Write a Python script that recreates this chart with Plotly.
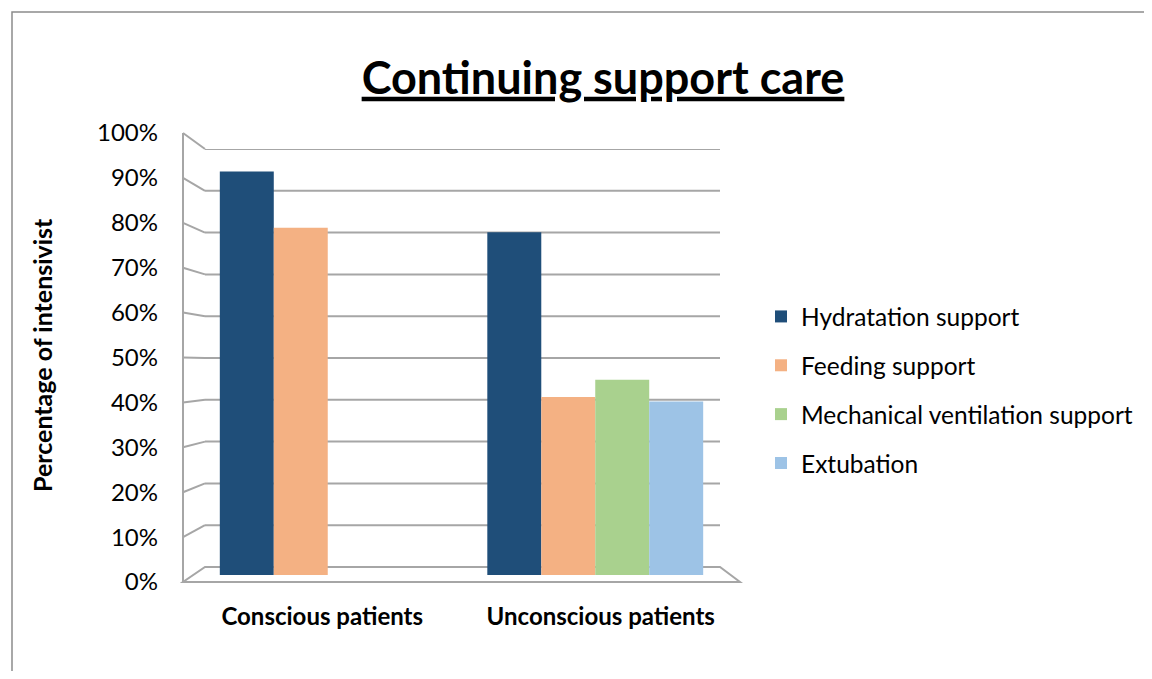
import plotly.graph_objects as go

categories = ["Conscious patients", "Unconscious patients"]
series_names = ["Hydratation support", "Feeding support",
                "Mechanical ventilation support", "Extubation"]
hydratation = [0.93, 0.79]
feeding = [0.80, 0.41]
mechanical = [None, 0.45]
extubation = [None, 0.40]
series_values = [hydratation, feeding, mechanical, extubation]
colors = ["#1F4E79", "#F4B183", "#A9D18E", "#9DC3E6"]
tick_vals = [i / 10 for i in range(11)]

FONT = "Lato"
OFF = 8                      # default page body margin
W, H = 1152 - 2 * OFF, 679 - 2 * OFF
# outer (front) plot box in screen px
L, R = 183 - OFF, 740 - OFF
T, B = 133 - OFF, 582 - OFF
GRID = "#a6a6a6"

def sx(x):
    return (x - OFF - L) / (R - L)

def sy(y):
    return (B - (y - OFF)) / (B - T)

bar_x_dom = [sx(194), sx(729)]
bar_y_dom = [sy(575), sy(141)]
back_y_dom = [sy(567), sy(149)]

fig = go.Figure()
for i, (name, vals, col) in enumerate(zip(series_names, series_values, colors)):
    fig.add_trace(go.Bar(
        x=categories, y=vals, name=name,
        marker=dict(color=col, line=dict(width=0)),
        legendgroup=f"g{i}",
    ))
# empty helper trace so the front-projection label axes are drawn
fig.add_trace(go.Scatter(x=[None], y=[None], xaxis="x2", yaxis="y2",
                         mode="markers", showlegend=False, hoverinfo="skip"))

shapes = []
# outer frame
shapes.append(dict(type="rect", xref="paper", yref="paper",
                   x0=sx(12), y0=sy(720), x1=sx(1200), y1=sy(12),
                   line=dict(color="#8c8c8c", width=1.5), fillcolor="rgba(0,0,0,0)", layer="below"))
# left wall front edge
shapes.append(dict(type="line", xref="paper", yref="paper",
                   x0=0, y0=0, x1=0, y1=1,
                   line=dict(color=GRID, width=2), layer="below"))
# floor
shapes.append(dict(type="path", xref="paper", yref="paper",
                   path=f"M 0 0 L 1 0 L {sx(720)} {back_y_dom[0]} L {sx(205)} {back_y_dom[0]} Z",
                   line=dict(color=GRID, width=2), fillcolor="rgba(0,0,0,0)", layer="below"))
# gridlines on back wall with 3-D stubs on the left wall
for v in tick_vals[1:]:
    back = back_y_dom[0] + v * (back_y_dom[1] - back_y_dom[0])
    shapes.append(dict(type="line", xref="paper", yref="paper",
                       x0=0, y0=v, x1=sx(205), y1=back,
                       line=dict(color=GRID, width=2), layer="below"))
    shapes.append(dict(type="line", xref="paper", yref="y3",
                       x0=sx(205), y0=v, x1=sx(720), y1=v,
                       line=dict(color=GRID, width=2), layer="below"))

fig.update_layout(
    width=W, height=H,
    paper_bgcolor="white", plot_bgcolor="rgba(0,0,0,0)",
    margin=dict(l=L, r=W - R, t=T, b=H - B, pad=0, autoexpand=False),
    barmode="group", bargap=0.193, bargroupgap=0,
    font=dict(family=FONT, color="#000000"),
    title=dict(text="<b><u>Continuing support care</u></b>",
               font=dict(family=FONT, size=45, color="#000000"),
               x=(603 - OFF) / W, xanchor="center", xref="container",
               y=1 - (78 - OFF) / H, yanchor="middle", yref="container"),
    # bars (mid depth)
    xaxis=dict(domain=bar_x_dom, anchor="y", showgrid=False, showline=False,
               zeroline=False, showticklabels=False, ticks=""),
    yaxis=dict(domain=bar_y_dom, anchor="x", range=[0, 1], showgrid=False,
               showline=False, zeroline=False, showticklabels=False, ticks=""),
    # front projection: category and value labels
    xaxis2=dict(domain=[0, 1], anchor="y2", range=[-0.5, 1.5],
                tickmode="array", tickvals=[0, 1],
                ticktext=[f"<b>{c}</b>" for c in categories],
                showgrid=False, showline=False, zeroline=False, ticks="",
                tickfont=dict(family=FONT, size=24, color="#000000"),
                ticklabelstandoff=18),
    yaxis2=dict(domain=[0, 1], anchor="x2", range=[0, 1], tickvals=tick_vals,
                tickformat=".0%", showgrid=False, zeroline=False, showline=False,
                ticks="", tickfont=dict(family=FONT, size=24, color="#000000"),
                ticklabelstandoff=24),
    # back wall (gridlines)
    yaxis3=dict(domain=back_y_dom, anchor="x", range=[0, 1], visible=False),
    legend=dict(x=sx(761), xanchor="left", y=sy(390), yanchor="middle",
                font=dict(family=FONT, size=24.5, color="#000000"),
                tracegroupgap=14, traceorder="grouped", bgcolor="rgba(0,0,0,0)"),
    shapes=shapes,
    annotations=[dict(text="<b>Percentage of intensivist</b>", xref="paper", yref="paper",
                      x=sx(42), y=sy(355), xanchor="center", yanchor="middle",
                      textangle=-90, showarrow=False,
                      font=dict(family=FONT, size=25, color="#000000"))],
)

fig.write_html("out.html")
